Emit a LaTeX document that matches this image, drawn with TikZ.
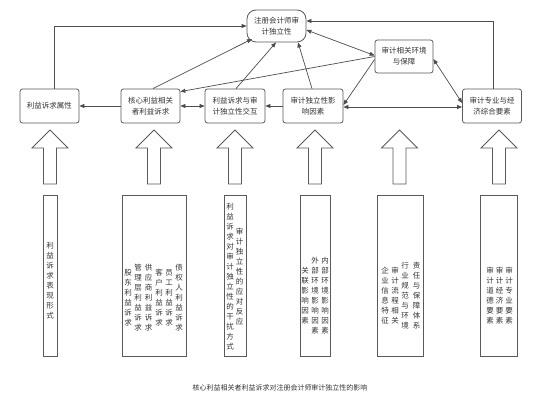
\documentclass[tikz,border=0pt]{standalone}
\usepackage{fontspec}
\newfontfamily\cjk{Noto Sans CJK SC}
\usetikzlibrary{arrows.meta}
\definecolor{ln}{HTML}{4D4D4D}
\definecolor{bd}{HTML}{5A5A5A}
\definecolor{tx}{HTML}{333333}
\makeatletter
\newcommand\vcol[1]{\vbox{\baselineskip=10pt\lineskiplimit=-10pt\@tfor\vc@c:=#1\do{\hbox to 8pt{\hss\vc@c\hss}}}}
\makeatother
\tikzset{
  box/.style={draw=bd, line width=0.8pt, rounded corners=2.5pt, fill=white, inner sep=0pt,
    minimum width=59pt, minimum height=34pt, align=center, text=tx,
    font=\cjk\fontsize{7.5pt}{11pt}\selectfont},
  topbox/.style={box, rounded corners=9pt, minimum height=32pt},
  bbox/.style={draw=bd, line width=0.8pt, inner sep=0pt, minimum height=161pt},
  vt/.style={inner sep=0pt, text=tx, font=\cjk\fontsize{7.5pt}{10pt}\selectfont},
  conn/.style={draw=ln, line width=0.7pt, -{Triangle[length=5pt,width=4pt]}},
  conn2/.style={draw=ln, line width=0.7pt, {Triangle[length=5pt,width=4pt]}-{Triangle[length=5pt,width=4pt]}},
  blk/.style={draw=bd, line width=0.8pt, fill=white},
}
\begin{document}
\begin{tikzpicture}[x=1pt,y=-1pt]
\useasboundingbox (0,0) rectangle (544,406);
\fill[white] (0,0) rectangle (544,406);

% top nodes
\node[topbox] (top) at (276.5,26) {注册会计师审\\计独立性};
\node[box, minimum width=58pt, minimum height=33pt] (env) at (404,56.5) {审计相关环境\\与保障};

% row
\node[box] (attr) at (49.5,106) {利益诉求属性};
\node[box] (core) at (150.5,106) {核心利益相关\\者利益诉求};
\node[box, minimum width=60pt] (inter) at (235,106) {利益诉求与审\\计独立性交互};
\node[box, minimum width=60pt] (fact) at (313,106) {审计独立性影\\响因素};
\node[box] (econ) at (492,106) {审计专业与经\\济综合要素};

% connectors
\draw[conn] ([xshift=4.5pt]attr.north) |- (top.west);
\draw[conn] ([xshift=1pt]econ.north) |- ([yshift=5pt]top.east);
\draw[conn] ([xshift=2.5pt]core.north) -- ([shift={(-24.5,13)}]top.center);
\draw[conn] ([xshift=1pt]inter.north) -- ([xshift=-0.5pt]top.south);
\draw[conn] ([xshift=-1pt]fact.north) -- ([xshift=21.5pt]top.south);
\draw[conn2] ([yshift=1pt]env.west) -- ([yshift=-4pt]top.east);
\draw[conn] (env.west) -- ([yshift=-3pt]core.north east);
\draw[conn] ([yshift=-3pt]env.west) -- ([yshift=1pt]fact.east);
\draw[conn2] ([yshift=-2.5pt]env.east) -- ([yshift=3pt]econ.west);
\draw[conn2] ([yshift=-1pt]fact.east) -- ([yshift=-1pt]econ.west);
\draw[conn] (fact.west) -- (inter.east);
\draw[conn2] (core.east) -- (inter.west);
\draw[conn] (core.west) -- (attr.east);

% block arrows
\foreach \cx in {50,154,235,315,399.5,499}{
  \draw[blk] (\cx,130) -- (\cx+18,148) -- (\cx+6.5,148) -- (\cx+6.5,184)
    -- (\cx-6.5,184) -- (\cx-6.5,148) -- (\cx-18,148) -- cycle;
}

% bottom boxes
\node[bbox, minimum width=14pt] (b1) at (50,275.5) {};
\node[bbox, minimum width=64pt] (b2) at (154,275.5) {};
\node[bbox, minimum width=22pt] (b3) at (235,275.5) {};
\node[bbox, minimum width=30pt] (b4) at (315,275.5) {};
\node[bbox, minimum width=46pt] (b5) at (400,275.5) {};
\node[bbox, minimum width=37pt] (b6) at (498.5,275.5) {};

% vertical texts
\node[vt] (t1) at (50,281) {\vcol{利益诉求表现形式}};

\node[vt] (t2a) at (179,298) {\vcol{债权人利益诉求}};
\node[vt] (t2b) at (169,298) {\vcol{员工利益诉求}};
\node[vt] (t2c) at (159,298) {\vcol{客户利益诉求}};
\node[vt] (t2d) at (148.5,298) {\vcol{供应商利益诉求}};
\node[vt] (t2e) at (138,298) {\vcol{管理层利益诉求}};
\node[vt] (t2f) at (128,298) {\vcol{股东利益诉求}};

\node[vt] (t3a) at (239.5,277) {\vcol{审计独立性的应对反应}};
\node[vt] (t3b) at (230,277) {\vcol{利益诉求对审计独立性的干扰方式}};

\node[vt] (t4a) at (325,296) {\vcol{内部环境影响因素}};
\node[vt] (t4b) at (315,296) {\vcol{外部环境影响因素}};
\node[vt] (t4c) at (305,296) {\vcol{关联影响因素}};

\node[vt] (t5a) at (416.5,296) {\vcol{责任与保障体系}};
\node[vt] (t5b) at (405,296) {\vcol{行业规范与环境}};
\node[vt] (t5c) at (395,296) {\vcol{审计流程相关}};
\node[vt] (t5d) at (385,296) {\vcol{企业信息特征}};

\node[vt] (t6a) at (509,296) {\vcol{审计专业要素}};
\node[vt] (t6b) at (499.5,296) {\vcol{审计经济要素}};
\node[vt] (t6c) at (490,296) {\vcol{审计道德要素}};

% caption
\node[text=tx, font=\cjk\fontsize{7pt}{8pt}\selectfont, inner sep=0pt] (cap) at (280,388) {核心利益相关者利益诉求对注册会计师审计独立性的影响};
\end{tikzpicture}
\end{document}
